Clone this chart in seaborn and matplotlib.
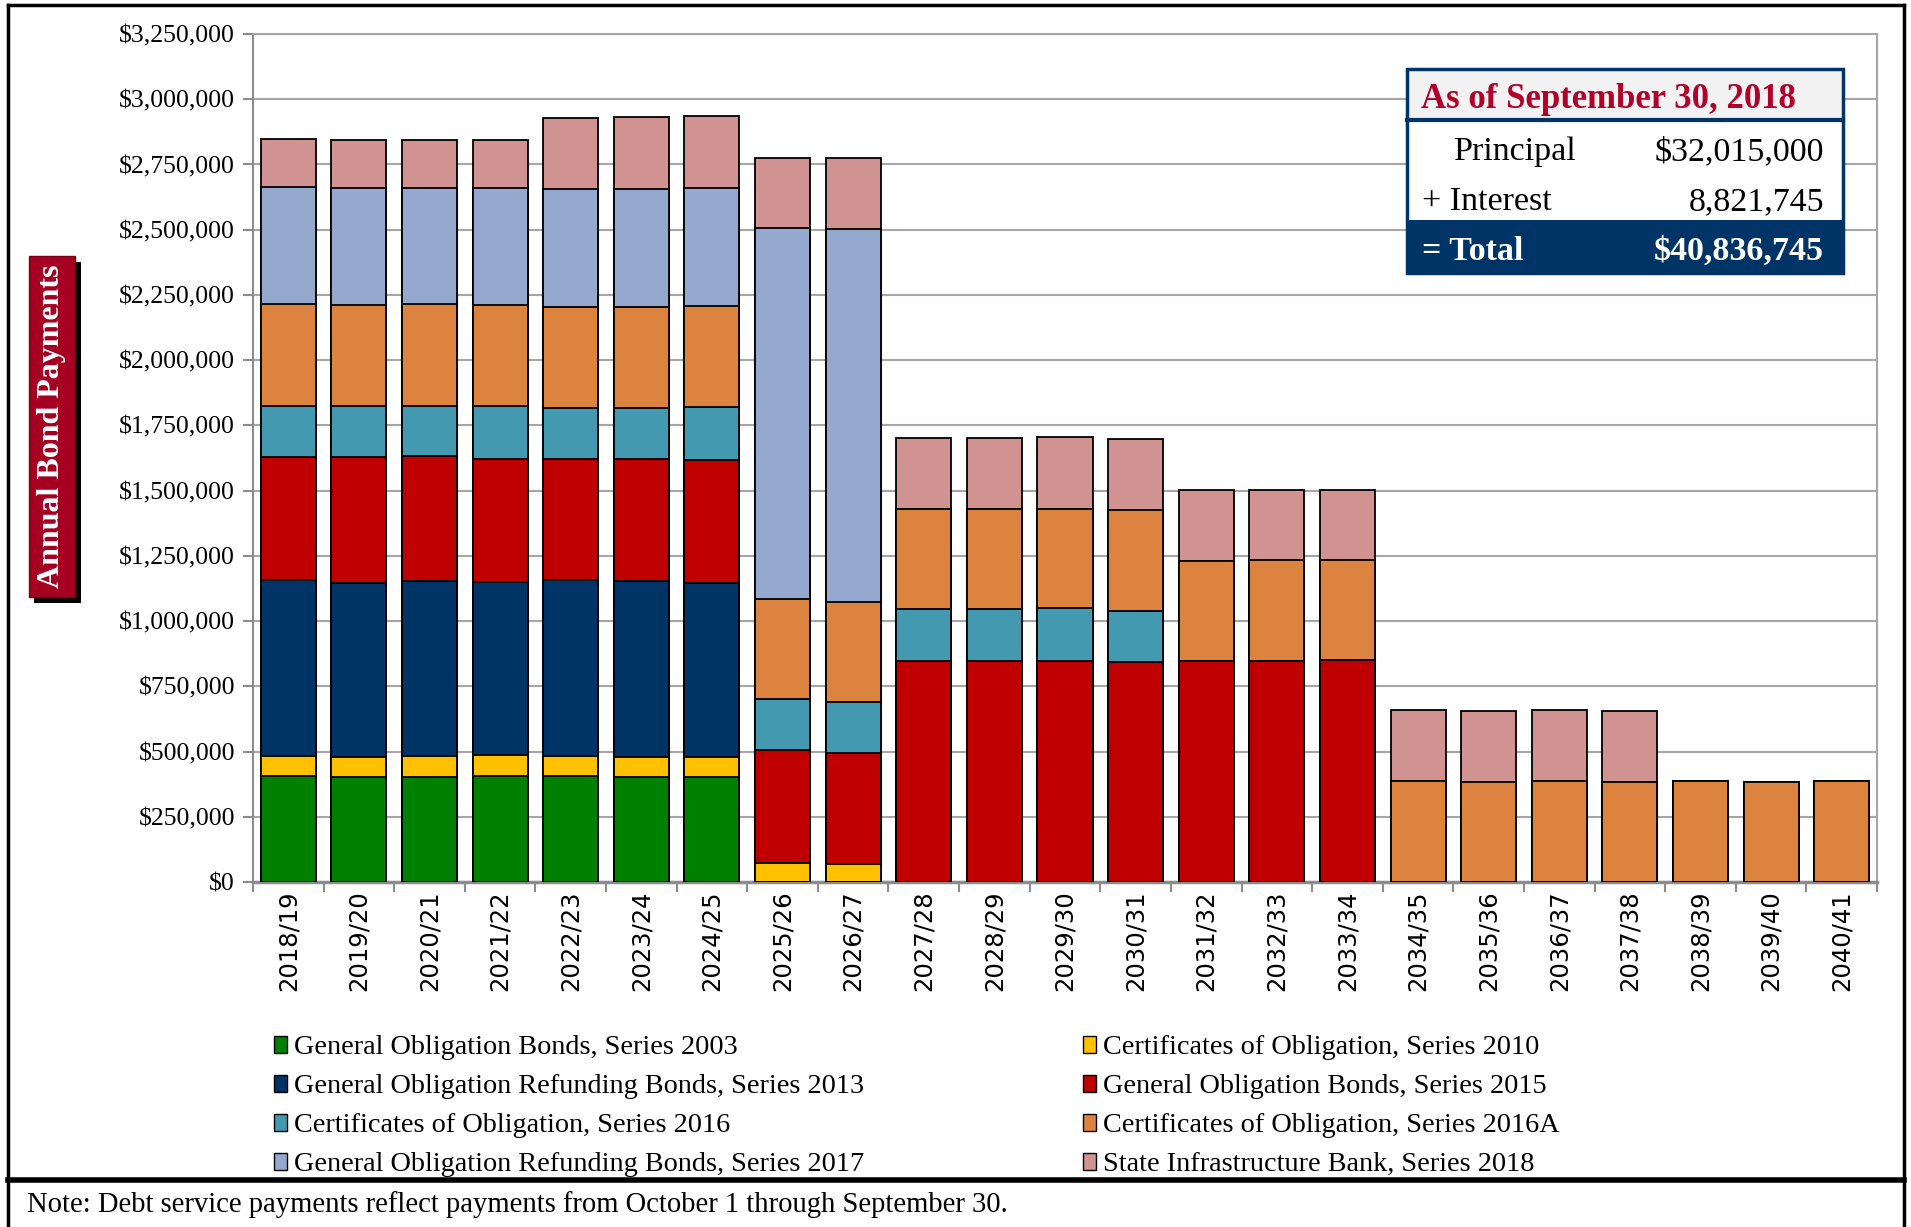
import matplotlib
matplotlib.use("Agg")
import matplotlib.pyplot as plt
import seaborn as sns
import pandas as pd
import numpy as np
from matplotlib.patches import Rectangle, Patch
from matplotlib.lines import Line2D
from matplotlib.ticker import FuncFormatter, MultipleLocator

# fiscal years
years = ['2018/19', '2019/20', '2020/21', '2021/22', '2022/23', '2023/24', '2024/25',
         '2025/26', '2026/27', '2027/28', '2028/29', '2029/30', '2030/31', '2031/32',
         '2032/33', '2033/34', '2034/35', '2035/36', '2036/37', '2037/38', '2038/39',
         '2039/40', '2040/41']

# annual payments per bond series
go_2003 = [405000, 402500, 402500, 405000, 405000, 402500, 402500, 0, 0, 0, 0, 0,
           0, 0, 0, 0, 0, 0, 0, 0, 0, 0, 0]
co_2010 = [79000, 78000, 81500, 82000, 79000, 78000, 75500, 74000, 69000, 0, 0, 0,
           0, 0, 0, 0, 0, 0, 0, 0, 0, 0, 0]
go_ref_2013 = [674000, 664500, 669000, 663000, 672500, 672500, 667000, 0, 0, 0, 0, 0,
               0, 0, 0, 0, 0, 0, 0, 0, 0, 0, 0]
go_2015 = [471500, 482000, 478000, 473000, 466500, 469000, 473000, 431000, 425500,
           846000, 846000, 846500, 844500, 847000, 847000, 850000, 0, 0, 0, 0, 0, 0, 0]
co_2016 = [196500, 199000, 195000, 202000, 195500, 196500, 202000, 198000, 194500,
           199500, 199500, 202500, 195500, 0, 0, 0, 0, 0, 0, 0, 0, 0, 0]
co_2016a = [389000, 386000, 387500, 387500, 386000, 386000, 386000, 383000, 386000,
            385500, 383500, 382000, 386000, 385000, 386500, 383500, 387000, 384500,
            387000, 384500, 387000, 384500, 386000]
go_ref_2017 = [448500, 447500, 444500, 447000, 450000, 452500, 455000, 1419000, 1426000,
               0, 0, 0, 0, 0, 0, 0, 0, 0, 0, 0, 0, 0, 0]
sib_2018 = [184000, 182500, 184000, 183000, 274500, 273500, 273500, 271000, 272000,
            272500, 272000, 273500, 271000, 271000, 270000, 270000, 272500, 272500,
            272500, 272500, 0, 0, 0]

series_names = ['General Obligation Bonds, Series 2003',
                'Certificates of Obligation, Series 2010',
                'General Obligation Refunding Bonds, Series 2013',
                'General Obligation Bonds, Series 2015',
                'Certificates of Obligation, Series 2016',
                'Certificates of Obligation, Series 2016A',
                'General Obligation Refunding Bonds, Series 2017',
                'State Infrastructure Bank, Series 2018']
colors = ['#008000', '#FFC000', '#003366', '#C00000', '#4399B0', '#DC843F', '#95A9CF', '#D19292']

df = pd.DataFrame({'Year': years})
for name, vals in zip(series_names, [go_2003, co_2010, go_ref_2013, go_2015,
                                     co_2016, co_2016a, go_ref_2017, sib_2018]):
    df[name] = vals
cum = df[series_names].cumsum(axis=1)

W, H = 1911, 1227
def fx(x): return x / W
def fy(y): return 1 - y / H

serif = 'Liberation Serif'
fig = plt.figure(figsize=(W / 100, H / 100), dpi=100)
ax = fig.add_axes([fx(253), fy(882), fx(1877) - fx(253), fy(34) - fy(882)])

# stacked bars: draw cumulative totals from the top series down
for name, col in zip(reversed(series_names), reversed(colors)):
    sns.barplot(x=df['Year'], y=cum[name], color=col, width=0.78, saturation=1,
                edgecolor='black', linewidth=1.3, errorbar=None, ax=ax, zorder=3)

ax.set_xlim(-0.5, len(years) - 0.5)
ax.set_ylim(0, 3250000)
ax.yaxis.set_major_locator(MultipleLocator(250000))
ax.yaxis.set_major_formatter(FuncFormatter(lambda v, p: f"${v:,.0f}"))
ax.yaxis.grid(True, color='#A6A6A6', lw=1.5, zorder=0)
ax.set_axisbelow(True)
ax.set_xlabel('')
ax.set_ylabel('')
ax.set_xticks(range(len(years)))
ax.set_xticklabels(years, rotation=90, fontsize=17.5, family='DejaVu Sans')
ax.set_xticks(np.arange(-0.5, len(years), 1), minor=True)
ax.tick_params(axis='x', which='major', length=0, pad=6)
ax.tick_params(axis='x', which='minor', length=7, width=1.5, color='#8C8C8C')
ax.tick_params(axis='y', length=7, width=1.5, color='#8C8C8C', pad=6)
for lab in ax.get_yticklabels():
    lab.set_family(serif)
    lab.set_fontsize(18.5)
for s in ax.spines.values():
    s.set_color('#A6A6A6')
    s.set_linewidth(1.5)
ax.spines['bottom'].set_color('#8C8C8C')
ax.spines['bottom'].set_linewidth(2.5)
ax.spines['left'].set_color('#8C8C8C')

# y label in a red box with shadow
fig.add_artist(Rectangle((fx(34), fy(603)), fx(81) - fx(34), fy(262) - fy(603),
                         transform=fig.transFigure, facecolor='black', edgecolor='none'))
fig.add_artist(Rectangle((fx(29), fy(597)), fx(75) - fx(29), fy(256) - fy(597),
                         transform=fig.transFigure, facecolor='#A50021', edgecolor='#7a0018', lw=1))
fig.text(fx(52), fy(426), 'Annual Bond Payments', rotation=90, color='white',
         fontsize=23, fontweight='bold', family=serif, ha='center', va='center')

# info box
navy = '#003366'
fig.add_artist(Rectangle((fx(1407), fy(120)), fx(1843) - fx(1407), fy(69) - fy(120),
                         transform=fig.transFigure, facecolor='#F2F2F2', edgecolor='none', zorder=5))
fig.add_artist(Rectangle((fx(1407), fy(220)), fx(1843) - fx(1407), fy(120) - fy(220),
                         transform=fig.transFigure, facecolor='white', edgecolor='none', zorder=5))
fig.add_artist(Rectangle((fx(1407), fy(273)), fx(1843) - fx(1407), fy(220) - fy(273),
                         transform=fig.transFigure, facecolor=navy, edgecolor='none', zorder=5))
fig.add_artist(Rectangle((fx(1407), fy(273)), fx(1843) - fx(1407), fy(69) - fy(273),
                         transform=fig.transFigure, facecolor='none', edgecolor=navy, lw=2.5, zorder=6))
fig.add_artist(Line2D([fx(1407), fx(1843)], [fy(120), fy(120)], color=navy, lw=3, zorder=6))
fig.text(fx(1421), fy(99), 'As of September 30, 2018', color='#B0002B', fontsize=25,
         fontweight='bold', family=serif, va='center', zorder=7)
fig.text(fx(1454), fy(152), 'Principal', fontsize=24.5, family=serif, va='center', zorder=7)
fig.text(fx(1824), fy(152), '$32,015,000', fontsize=24.5, family=serif, va='center', ha='right', zorder=7)
fig.text(fx(1422), fy(202), '+ Interest', fontsize=24.5, family=serif, va='center', zorder=7)
fig.text(fx(1824), fy(202), '8,821,745', fontsize=24.5, family=serif, va='center', ha='right', zorder=7)
fig.text(fx(1422), fy(251), '= Total', fontsize=24.5, fontweight='bold', color='white',
         family=serif, va='center', zorder=7)
fig.text(fx(1824), fy(251), '$40,836,745', fontsize=24.5, fontweight='bold', color='white',
         family=serif, va='center', ha='right', zorder=7)

# legend in two columns
def make_handles(idx):
    return [Patch(facecolor=colors[i], edgecolor='black', lw=1) for i in idx]
left_idx = [0, 2, 4, 6]
right_idx = [1, 3, 5, 7]
for idx, x0 in [(left_idx, 274), (right_idx, 1083)]:
    fig.legend(make_handles(idx), [series_names[i] for i in idx], loc='upper left',
               bbox_to_anchor=(fx(x0), fy(1035)), frameon=False, borderpad=0,
               borderaxespad=0, handlelength=0.45, handleheight=0.55, handletextpad=0.25,
               labelspacing=0.5, prop={'family': serif, 'size': 20.3})

# outer frame
for xs, ys, lw in [([8, 1904], [5, 5], 2.5), ([8, 8], [5, 1227], 2.5),
                   ([1904, 1904], [5, 1227], 2.5), ([8, 1904], [1180, 1180], 4)]:
    fig.add_artist(Line2D([fx(x) for x in xs], [fy(y) for y in ys], color='black', lw=lw))

fig.text(fx(27), fy(1205), 'Note: Debt service payments reflect payments from October 1 through September 30.',
         fontsize=20.6, family=serif, va='center')

fig.savefig('out.png', dpi=100)
